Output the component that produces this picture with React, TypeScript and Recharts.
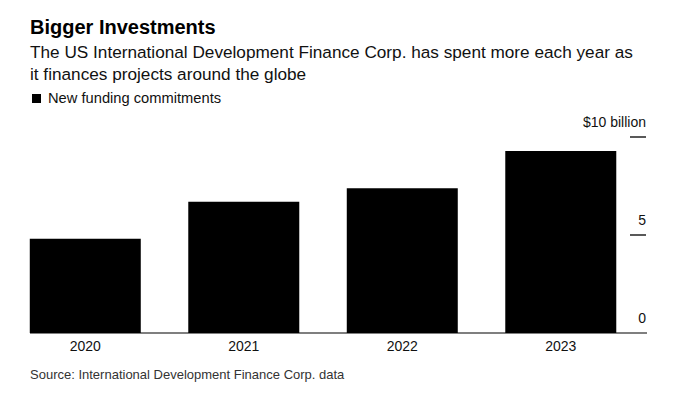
import { BarChart, Bar, XAxis, YAxis } from 'recharts'

// New funding commitments, $ billion
const years = ['2020', '2021', '2022', '2023']
const commitments = [4.81, 6.7, 7.38, 9.28]
const yTicks = [0, 5, 10]

const data = years.map((year, i) => ({ year, value: commitments[i] }))

const FONT = '"Liberation Sans", Arial, Helvetica, sans-serif'

// right-hand value ticks: short rule under each label, "$10 billion" on top
const ValueTick = (props: any) => {
  const { x, y, payload } = props
  const v = payload.value
  const label = v === 10 ? '$10 billion' : String(v)
  return (
    <g>
      {v !== 0 && <line x1={x - 17} x2={x - 1} y1={y} y2={y} stroke="#222" strokeWidth={1.5} />}
      <text x={x - 1} y={y - 10} textAnchor="end" fontSize={14} fill="#111" fontFamily={FONT}>
        {label}
      </text>
    </g>
  )
}

export default function App() {
  return (
    <div
      style={{
        position: 'absolute',
        left: 0,
        top: 0,
        width: 680,
        height: 403,
        background: '#fff',
        fontFamily: FONT,
        overflow: 'hidden',
      }}
    >
      <div style={{ position: 'absolute', left: 30, top: 15, fontSize: 20, lineHeight: '24px', fontWeight: 700, color: '#000' }}>
        Bigger Investments
      </div>
      <div style={{ position: 'absolute', left: 30, top: 41, fontSize: 17.2, lineHeight: '22px', color: '#111', whiteSpace: 'nowrap' }}>
        The US International Development Finance Corp. has spent more each year as
        <br />
        it finances projects around the globe
      </div>
      <div style={{ position: 'absolute', left: 32, top: 89, fontSize: 14.7, lineHeight: '18px', color: '#111', display: 'flex', alignItems: 'center' }}>
        <span style={{ display: 'inline-block', width: 9, height: 9, background: '#000', marginRight: 7 }} />
        New funding commitments
      </div>

      <div style={{ position: 'absolute', left: 0, top: 0 }}>
        <BarChart
          width={680}
          height={403}
          data={data}
          margin={{ top: 137, right: 0, bottom: 40, left: 30 }}
          barCategoryGap="15%"
        >
          <XAxis
            dataKey="year"
            height={30}
            padding={{ left: -24, right: 7 }}
            axisLine={{ stroke: '#000', strokeWidth: 1.2 }}
            tickLine={false}
            tickSize={0}
            tickMargin={8}
            tick={{ fontSize: 14, fill: '#111', fontFamily: FONT }}
          />
          <YAxis
            orientation="right"
            width={33}
            domain={[0, 10]}
            ticks={yTicks}
            axisLine={false}
            tickLine={false}
            tickSize={0}
            tickMargin={0}
            tick={<ValueTick />}
          />
          <Bar dataKey="value" fill="#000" isAnimationActive={false} />
        </BarChart>
      </div>

      <div style={{ position: 'absolute', left: 30, top: 367, fontSize: 13, lineHeight: '16px', color: '#333' }}>
        Source: International Development Finance Corp. data
      </div>
    </div>
  )
}
